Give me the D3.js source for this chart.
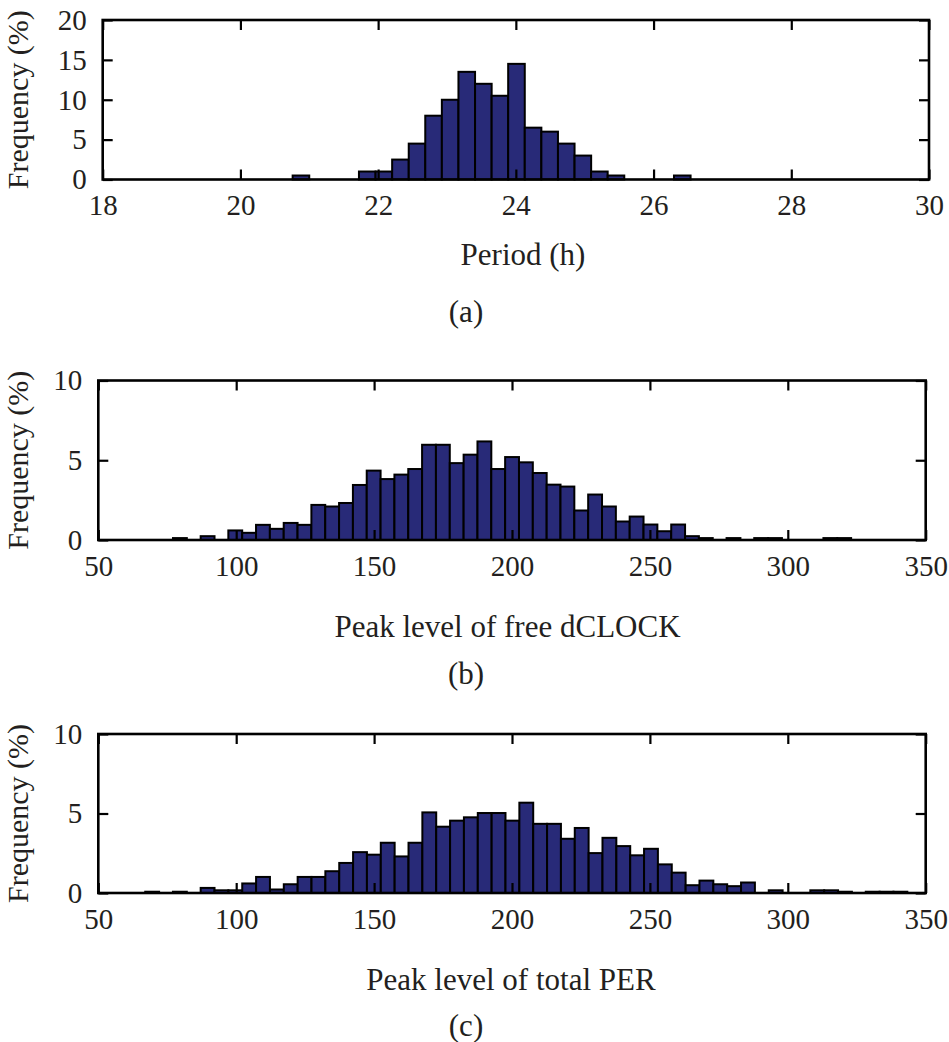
<!DOCTYPE html>
<html>
<head>
<meta charset="utf-8">
<script src="https://cdn.jsdelivr.net/npm/d3@7"></script>
<style>
html,body{margin:0;padding:0;background:#fff;}
svg{display:block;}
</style>
</head>
<body>
<svg id="chart" width="949" height="1042"></svg>
<script>
// ---------- DATA ----------
// (a) Period histogram: bin centres (h) and frequency (%)
const periodCenters = [20.879,21.120,21.361,21.601,21.842,22.083,22.324,22.565,22.805,23.046,23.287,23.528,23.769,24.009,24.250,24.491,24.732,24.973,25.213,25.454,25.695,25.936,26.177,26.417];
const periodFreq    = [0.5,0,0,0,1,1,2.5,4.5,8,10,13.5,12,10.5,14.5,6.5,6,4.5,3,1,0.5,0,0,0,0.5];
const periodTicks = [18,20,22,24,26,28,30];
const periodFreqTicks = [0,5,10,15,20];

// (b) Peak level of free dCLOCK
const clockCenters = [79.59,84.61,89.63,94.65,99.66,104.68,109.70,114.72,119.74,124.75,129.77,134.79,139.81,144.83,149.84,154.86,159.88,164.90,169.91,174.93,179.95,184.97,189.99,195.00,200.02,205.04,210.06,215.08,220.09,225.11,230.13,235.15,240.17,245.18,250.20,255.22,260.24,265.25,270.27,275.29,280.31,285.33,290.34,295.36,300.38,305.40,310.42,315.43,320.45];
const clockFreq    = [0.12,0,0.24,0,0.6,0.45,0.95,0.7,1.07,0.95,2.2,2.1,2.32,3.45,4.35,3.82,4.1,4.45,5.97,5.97,4.82,5.35,6.18,4.45,5.2,4.87,4.2,3.47,3.35,1.85,2.85,2.1,1.16,1.47,0.97,0.55,0.97,0.24,0.12,0,0.12,0,0.12,0.12,0,0,0,0.12,0.12];

// (c) Peak level of total PER
const perCenters = [69.53,74.55,79.58,84.60,89.63,94.65,99.67,104.70,109.72,114.75,119.77,124.79,129.82,134.84,139.87,144.89,149.91,154.94,159.96,164.99,170.01,175.03,180.06,185.08,190.11,195.13,200.15,205.18,210.20,215.23,220.25,225.27,230.30,235.32,240.35,245.37,250.39,255.42,260.44,265.47,270.49,275.51,280.54,285.56,290.59,295.61,300.63,305.66,310.68,315.71,320.73,325.75,330.78,335.80,340.83];
const perFreq    = [0.08,0,0.08,0,0.32,0.17,0.17,0.6,1.01,0.22,0.55,1.01,1.01,1.37,1.89,2.57,2.41,3.16,2.3,3.16,5.07,4.17,4.55,4.76,5.03,5.03,4.55,5.68,4.35,4.35,3.41,4.09,2.51,3.47,2.95,2.37,2.78,1.8,1.28,0.49,0.78,0.55,0.43,0.66,0,0.17,0,0,0.17,0.17,0.08,0,0.08,0.08,0.08];
const levelTicks = [50,100,150,200,250,300,350];
const levelFreqTicks = [0,5,10];

const xLabels = ["Period (h)", "Peak level of free dCLOCK", "Peak level of total PER"];
const yLabel = "Frequency (%)";
const subLabels = ["(a)", "(b)", "(c)"];

// ---------- LAYOUT ----------
const panels = [
  {centers: periodCenters, freq: periodFreq, xDomain:[18,30], yDomain:[0,20], xTicks: periodTicks, yTicks: periodFreqTicks,
   left:102.7, right:929, top:20, bottom:179.5, xLabelX:523, xLabelY:265, subY:322},
  {centers: clockCenters, freq: clockFreq, xDomain:[50,350], yDomain:[0,10], xTicks: levelTicks, yTicks: levelFreqTicks,
   left:98.3, right:925.7, top:380.5, bottom:540, xLabelX:507.5, xLabelY:637, subY:684},
  {centers: perCenters, freq: perFreq, xDomain:[50,350], yDomain:[0,10], xTicks: levelTicks, yTicks: levelFreqTicks,
   left:98.3, right:925.7, top:734, bottom:893, xLabelX:511, xLabelY:990, subY:1036}
];

const FONT = "'Liberation Serif','Times New Roman',serif";
const TXT = "#231f20";
const BAR = "#282a78";

const svg = d3.select("#chart");

panels.forEach((p, i) => {
  const x = d3.scaleLinear().domain(p.xDomain).range([p.left, p.right]);
  const y = d3.scaleLinear().domain(p.yDomain).range([p.bottom, p.top]);
  const g = svg.append("g");
  const w = p.centers[1] - p.centers[0];
  const data = p.centers.map((c, k) => ({c, v: p.freq[k]})).filter(d => d.v > 0);

  g.selectAll("rect.bar").data(data).enter().append("rect")
    .attr("class","bar")
    .attr("x", d => x(d.c - w/2))
    .attr("width", d => x(d.c + w/2) - x(d.c - w/2))
    .attr("y", d => y(d.v))
    .attr("height", d => y(0) - y(d.v))
    .attr("fill", BAR)
    .attr("stroke", "#000")
    .attr("stroke-width", 2);

  const styleAxis = (sel, showText) => {
    sel.select(".domain").remove();
    sel.selectAll(".tick line").attr("stroke","#000").attr("stroke-width",2.2);
    sel.selectAll(".tick text").attr("fill", TXT).style("font-family", FONT).style("font-size","29px");
    if (!showText) sel.selectAll(".tick text").remove();
  };

  // bottom
  g.append("g").attr("transform",`translate(0,${p.bottom})`)
    .call(d3.axisBottom(x).tickValues(p.xTicks).tickSize(-10).tickPadding(15).tickFormat(d3.format("d")))
    .call(s => styleAxis(s, true));
  // top
  g.append("g").attr("transform",`translate(0,${p.top})`)
    .call(d3.axisTop(x).tickValues(p.xTicks).tickSize(-10))
    .call(s => styleAxis(s, false));
  // left
  g.append("g").attr("transform",`translate(${p.left},0)`)
    .call(d3.axisLeft(y).tickValues(p.yTicks).tickSize(-10).tickPadding(16).tickFormat(d3.format("d")))
    .call(s => styleAxis(s, true));
  // right
  g.append("g").attr("transform",`translate(${p.right},0)`)
    .call(d3.axisRight(y).tickValues(p.yTicks).tickSize(-10))
    .call(s => styleAxis(s, false));

  // frame
  g.append("rect")
    .attr("x", p.left).attr("y", p.top)
    .attr("width", p.right - p.left).attr("height", p.bottom - p.top)
    .attr("fill","none").attr("stroke","#000").attr("stroke-width",2.6);

  // labels
  g.append("text").attr("x", p.xLabelX).attr("y", p.xLabelY)
    .attr("text-anchor","middle").attr("fill",TXT)
    .style("font-family",FONT).style("font-size","31px").text(xLabels[i]);

  g.append("text")
    .attr("transform",`translate(27.5,${(p.top+p.bottom)/2}) rotate(-90)`)
    .attr("text-anchor","middle").attr("fill",TXT)
    .style("font-family",FONT).style("font-size","30px").text(yLabel);

  g.append("text").attr("x", 466).attr("y", p.subY)
    .attr("text-anchor","middle").attr("fill",TXT)
    .style("font-family",FONT).style("font-size","31px").text(subLabels[i]);
});
</script>
</body>
</html>
